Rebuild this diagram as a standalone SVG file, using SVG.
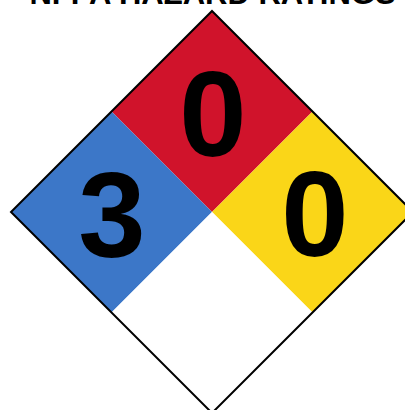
<svg xmlns="http://www.w3.org/2000/svg" width="405" height="410" viewBox="0 0 405 410">
<style>
.num{font-family:"Liberation Sans",Arial,sans-serif;font-weight:bold;font-size:121px;text-anchor:middle;fill:#000}
.title{font-family:"Liberation Sans",Arial,sans-serif;font-weight:bold;font-size:31px;text-anchor:middle;fill:#000}
</style>
<rect width="405" height="410" fill="#fff"/>
<text class="title" x="212.5" y="4">NFPA HAZARD RATINGS</text>
<g id="flammability">
<polygon points="212,11 312.5,111.5 212,212 111.5,111.5" fill="#D0132B"/>
<text class="num" x="213" y="156">0</text>
</g>
<g id="health">
<polygon points="111.5,111.5 212,212 111.5,312.5 11,212" fill="#3C77C8"/>
<text class="num" x="112" y="257">3</text>
</g>
<g id="instability">
<polygon points="312.5,111.5 413,212 312.5,312.5 212,212" fill="#FAD618"/>
<text class="num" x="315" y="256">0</text>
</g>
<g id="special">
<polygon points="212,212 312.5,312.5 212,413 111.5,312.5" fill="#fff"/>
</g>
<g id="connectors">
<polygon points="212,11 413,212 212,413 11,212" fill="none" stroke="#000" stroke-width="2"/>
</g>
</svg>
